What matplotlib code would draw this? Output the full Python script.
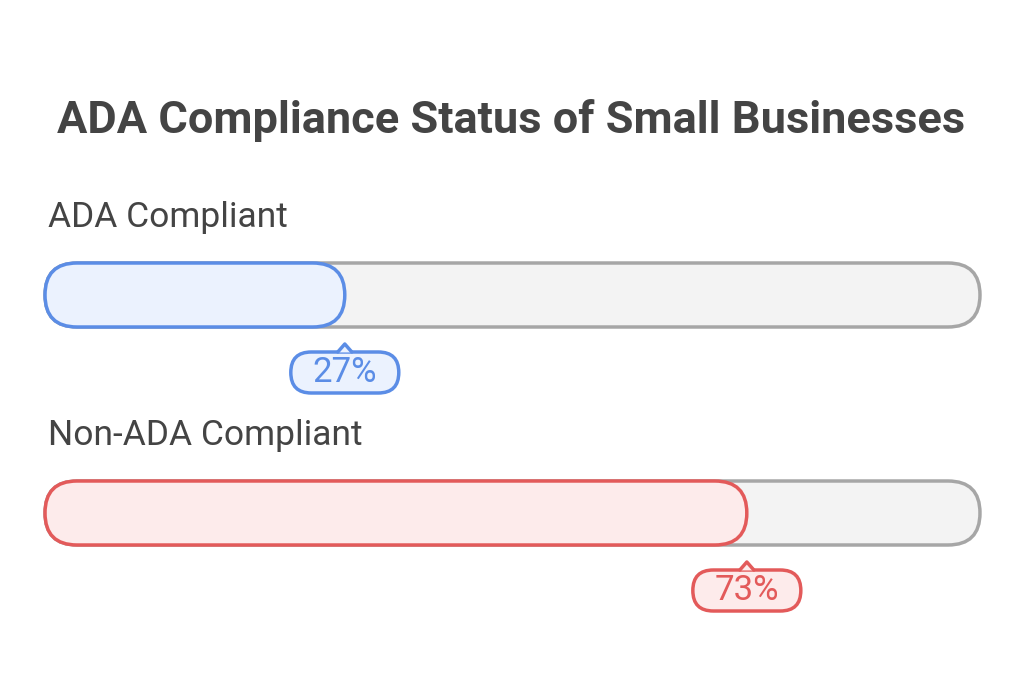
import matplotlib
matplotlib.use("Agg")
import matplotlib.pyplot as plt
from matplotlib.patches import FancyBboxPatch, Polygon

title = "ADA Compliance Status of Small Businesses"
categories = ["ADA Compliant", "Non-ADA Compliant"]
values = [27, 73]
labels = ["27%", "73%"]
edge_colors = ["#5B8DE6", "#E35A5A"]
fill_colors = ["#EBF2FE", "#FDEBEB"]

P = 8.74            # pixels per data unit (both axes)
X0 = -12.45         # x data at left figure edge
fig = plt.figure(figsize=(10.24, 6.98), dpi=100)
ax = fig.add_axes([0, 0, 1, 1])
ax.set_xlim(X0, X0 + 1024 / P)
ax.set_ylim(698 / P, 0)
ax.axis("off")

def px(v):  # pixel -> data (layout only)
    return v / P

ax.text(px(511) + X0, px(120), title, ha="center", va="center",
        fontsize=32.5, fontweight="bold", color="#444444", family="Roboto")

start = px(45) + X0
end = px(980) + X0
h = px(64)
r = h / 2
rows_y = [px(295), px(513)]
label_y = [px(218), px(436)]
for cat, v, lab, ec, fc, yc, ly in zip(categories, values, labels, edge_colors,
                                        fill_colors, rows_y, label_y):
    ax.text(px(48) + X0, ly, cat, ha="left", va="center", fontsize=25.5,
            color="#444444", family="Roboto")
    ax.add_patch(FancyBboxPatch((start, yc - h / 2), end - start, h,
                 boxstyle=f"round,pad=0,rounding_size={r}",
                 fc="#F3F3F3", ec="#A6A6A6", lw=2.5))
    ax.add_patch(FancyBboxPatch((start, yc - h / 2), v - start, h,
                 boxstyle=f"round,pad=0,rounding_size={r}",
                 fc=fc, ec=ec, lw=2.5, zorder=3))
    # callout
    bw, bh = px(108), px(41)
    by = yc + h / 2 + px(25)
    ax.add_patch(FancyBboxPatch((v - bw / 2, by), bw, bh,
                 boxstyle=f"round,pad=0,rounding_size={bh/2}",
                 fc=fc, ec=ec, lw=2.5, zorder=4))
    tw, th = px(7), px(8)
    ax.add_patch(Polygon([(v - tw, by + 0.05), (v, by - th), (v + tw, by + 0.05)],
                 closed=True, fc=fc, ec="none", zorder=5))
    ax.plot([v - tw, v, v + tw], [by, by - th, by], color=ec, lw=2.5, zorder=6,
            solid_capstyle="round", solid_joinstyle="round")
    ax.text(v, by + bh / 2, lab, ha="center", va="center", fontsize=25,
            color=ec, family="Roboto", zorder=7)

fig.savefig("out.png", dpi=100, facecolor="white")
